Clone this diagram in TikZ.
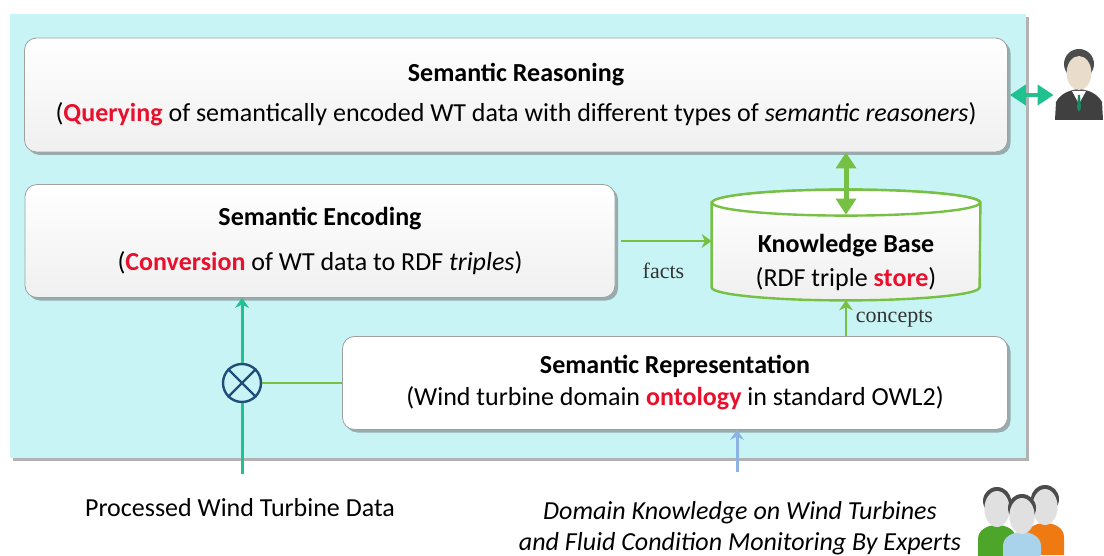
\documentclass[tikz,border=0pt]{standalone}
\usepackage{fontspec}
\setmainfont{Carlito}
\newfontfamily\labelfont{Liberation Serif}
\usetikzlibrary{arrows.meta,shadows,positioning}

\definecolor{bgcyan}{HTML}{C9F4F6}
\definecolor{kbgreen}{HTML}{76C043}
\definecolor{linkteal}{HTML}{1FC28E}
\definecolor{hotred}{HTML}{E8112D}
\definecolor{skyblue}{HTML}{8DB3E2}
\definecolor{mixnavy}{HTML}{1F4E79}
\definecolor{boxedge}{HTML}{A0A0A0}
\definecolor{skin}{HTML}{E9DCCB}
\definecolor{expertgreen}{HTML}{4DA62A}
\definecolor{expertorange}{HTML}{F07A12}
\definecolor{expertblue}{HTML}{A9D3EA}

\begin{document}
\begin{tikzpicture}[x=0.5pt,y=-0.5pt,
    block/.style={draw=boxedge, rounded corners=6pt, top color=white, bottom color=gray!12,
      drop shadow={shadow xshift=1.5pt, shadow yshift=-1.5pt, fill=black!60}, align=center,
      inner sep=0pt, font=\fontsize{13}{16}\selectfont},
    thinlink/.style={line width=1.3pt, -{Stealth[width=7pt,length=5pt]}},
    biglink/.style={line width=2.5pt, {Triangle[width=10pt,length=8pt]}-{Triangle[width=10pt,length=8pt]}},
    tag/.style={font=\labelfont\fontsize{11}{13}\selectfont, text=black!80}]
  \useasboundingbox (0,0) rectangle (1104,556);

  % framework background
  \fill[black!30] (13,17) rectangle (1029,461);
  \fill[bgcyan] (10,14) rectangle (1026,458);

  % the three layers
  \node[block, minimum width=491.5pt, minimum height=57pt] (reason) at (516,95)
    {\textbf{Semantic Reasoning}\\[4pt](\textcolor{hotred}{\textbf{Querying}} of semantically encoded WT data with different types of \textit{semantic reasoners})};
  \node[block, minimum width=295pt, minimum height=56.5pt] (enc) at (320,241)
    {\textbf{Semantic Encoding}\\[6.5pt](\textcolor{hotred}{\textbf{Conversion}} of WT data to RDF \textit{triples})};
  \node[block, bottom color=white, minimum width=332.5pt, minimum height=46.5pt] (rep) at (675,383)
    {\textbf{Semantic Representation}\\[0pt](Wind turbine domain \textcolor{hotred}{\textbf{ontology}} in standard OWL2)};

  % knowledge base cylinder
  \node[minimum width=134pt, minimum height=42pt, inner sep=0pt] (kb) at (846,245) {};
  \draw[kbgreen, line width=1.2pt, top color=white, bottom color=gray!12]
    (kb.north west) -- (kb.south west) arc[start angle=180, end angle=360, x radius=67pt, y radius=6.5pt]
    -- (kb.north east) arc[start angle=0, end angle=180, x radius=67pt, y radius=6.5pt] -- cycle;
  \draw[kbgreen, line width=1.2pt, fill=white] (kb.north) ellipse[x radius=67pt, y radius=6.5pt];
  \node[align=center, font=\fontsize{13}{17}\selectfont] (kbtext) at (846,262)
    {\textbf{Knowledge Base}\\(RDF triple \textcolor{hotred}{\textbf{store}})};

  % inputs
  \node[circle, draw=mixnavy, line width=1.2pt, fill=bgcyan, minimum size=19pt, inner sep=0pt] (mix) at (242,383) {};
  \draw[mixnavy, line width=1.2pt] (mix.45) -- (mix.225) (mix.135) -- (mix.315);
  \node[font=\fontsize{13}{15}\selectfont] (pwt) at (240,508) {Processed Wind Turbine Data};
  \node[align=center, font=\fontsize{13}{15.5}\selectfont\itshape] (dk) at (740,528)
    {Domain Knowledge on Wind Turbines\\and Fluid Condition Monitoring By Experts};

  % users
  \node[minimum width=25pt, minimum height=33pt, inner sep=0pt] (user) at (1079,88) {};
  \fill[black!75] (1055,120) -- (1056,102) .. controls (1061,93) and (1070,90) .. (1079,89)
    .. controls (1088,90) and (1097,93) .. (1102,102) -- (1103,120) -- cycle;
  \fill[white] (1072,91) -- (1079,104) -- (1086,91) -- cycle;
  \fill[linkteal!70!black] (1078,95) -- (1080,95) -- (1081,108) -- (1079,112) -- (1077,108) -- cycle;
  \fill[black!70] (1079,64) ellipse[x radius=7.5pt, y radius=7.5pt];
  \fill[skin] (1079,73) ellipse[x radius=6.2pt, y radius=8.5pt];
  \node[minimum width=46pt, minimum height=32pt, inner sep=0pt] (experts) at (1021,522) {};
  \foreach \px/\py/\col in {997/507/expertgreen, 1045/505/expertorange, 1022/514/expertblue}
  {
    \fill[\col] (\px-19,\py+50) -- (\px-19,\py+32) to[out=90,in=180] (\px,\py+18) to[out=0,in=90] (\px+19,\py+32) -- (\px+19,\py+50) -- cycle;
    \fill[black!70] (\px,\py-6) ellipse[x radius=7pt, y radius=7pt];
    \fill[black!12] (\px,\py+2) ellipse[x radius=6.3pt, y radius=9pt];
  }

  % connectors
  \draw[biglink, kbgreen] (reason.south -| kb) -- ([yshift=-6pt]kb.north);
  \draw[biglink, linkteal, line width=2pt] ([xshift=1pt]reason.east) -- (user.west |- reason.east);
  \draw[thinlink, kbgreen, shorten <=3pt] (enc.east) -- (kb.west |- enc.east)
    node[midway, below=7pt, tag] (factstag) {facts};
  \draw[thinlink, kbgreen] (rep.north -| kb) -- ([yshift=-6.5pt]kb.south)
    node[midway, right=1pt, tag] (conceptstag) {concepts};
  \draw[kbgreen, line width=1.3pt] (mix) -- (rep.west |- mix);
  \draw[linkteal, line width=1.5pt, shorten <=9pt] (pwt.north -| mix) -- (mix);
  \draw[thinlink, linkteal, line width=1.5pt] (mix) -- (mix |- enc.south);
  \draw[thinlink, skyblue, line width=1.5pt, shorten <=11pt] (dk.north -| 737,0) -- (rep.south -| 737,0);
\end{tikzpicture}
\end{document}
